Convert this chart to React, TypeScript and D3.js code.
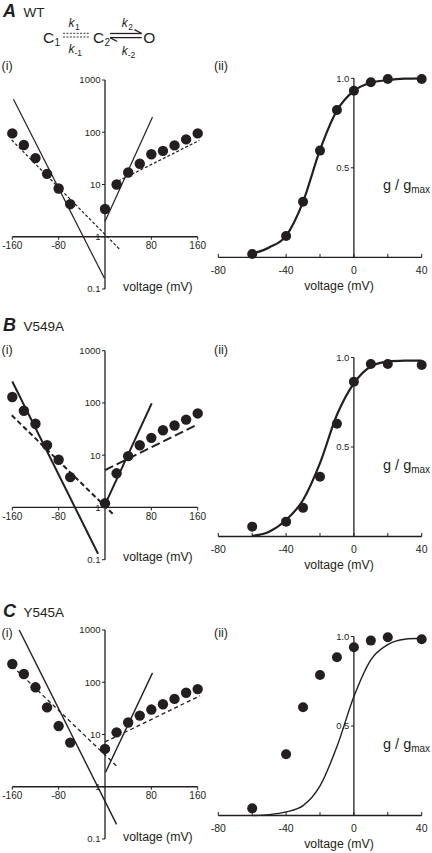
import React from 'react';
import * as d3 from 'd3';

// ---------- (i) rate constants vs voltage (log axis) ----------
const ivVoltages = [-160, -140, -120, -100, -80, -60, 0, 20, 40, 60, 80, 100, 120, 140, 160];
const wtRates = [95, 57, 32, 16, 8.4, 4.2, 3.4, 10, 17, 25, 38, 44, 56, 73, 95];
const v549aRates = [130, 71, 40, 15.6, 8.2, 3.8, 1.2, 4.5, 9.6, 15.5, 21.5, 30, 37, 48, 63];
const y545aRates = [224, 144, 80, 33, 14.5, 7, 5.3, 11, 17, 23, 30, 38, 48, 63, 74];

// fitted lines: [voltage, rate] end points
const wtSolidLeft = [[-158, 427], [-1, 0.16]];
const wtSolidRight = [[0, 1.95], [82, 195]];
const wtDashLeft = [[-161, 71], [25, 0.58]];
const wtDashRight = [[15, 10.5], [163, 70]];

const v549aSolidLeft = [[-160, 257], [-12, 0.13]];
const v549aSolidRight = [[-1, 1.07], [80.6, 98]];
const v549aDashLeft = [[-161, 58], [17, 0.69]];
const v549aDashRight = [[0, 5.2], [160, 39]];

const y545aSolidLeft = [[-148, 1000], [20, 0.19]];
const y545aSolidRight = [[1, 1.9], [82, 151]];
const y545aDashLeft = [[-160, 204], [20, 2.5]];
const y545aDashRight = [[0, 7.2], [164, 55]];

const ivXTicks = [-160, -80, 80, 160];
const ivYTicks = [1000, 100, 10, 1, 0.1];

// ---------- (ii) g / gmax vs voltage ----------
const gvVoltages = [-60, -40, -30, -20, -10, 0, 10, 20, 40];
const wtG = [0.018, 0.119, 0.31, 0.596, 0.823, 0.93, 0.978, 0.996, 0.996];
const v549aG = [0.055, 0.083, 0.16, 0.334, 0.63, 0.865, 0.964, 0.964, 0.958];
const y545aG = [0.04, 0.342, 0.605, 0.785, 0.884, 0.94, 0.977, 0.996, 0.985];

const fitVoltages = [-60, -50, -40, -30, -20, -10, 0, 10, 20, 30, 40];
const wtFit = [0.02, 0.055, 0.12, 0.31, 0.6, 0.82, 0.93, 0.975, 0.99, 0.998, 1.0];
const v549aFit = [0.003, 0.027, 0.092, 0.204, 0.41, 0.68, 0.856, 0.95, 0.977, 0.982, 0.983];
const y545aFit = [0, 0.005, 0.02, 0.055, 0.165, 0.385, 0.665, 0.87, 0.955, 0.985, 0.99];

const gvXTicks = [-80, -60, -40, -20, 0, 20, 40];
const gvXLabels = [-80, -40, 0, 40];
const gvYTicks = [1.0, 0.5];

const FONT = "'Liberation Sans', Arial, Helvetica, sans-serif";
const INK = '#231f20';

const ivX = d3.scaleLinear().domain([-160, 160]).range([12.3, 197.7]);
const gvX = d3.scaleLinear().domain([-80, 40]).range([218.3, 421.7]);

type LineStyle = { w: number; dash?: string };

const panels = [
  {
    letter: 'A', name: 'WT', headerY: 17, subY: 70, ivTop: 80, gvBase: 257.3,
    rates: wtRates, fits: [wtSolidLeft, wtSolidRight, wtDashLeft, wtDashRight],
    styles: [{ w: 1.2 }, { w: 1.2 }, { w: 1.2, dash: '3,2' }, { w: 1.2, dash: '3,2' }] as LineStyle[],
    g: wtG, gFit: wtFit, fitW: 2.2,
  },
  {
    letter: 'B', name: 'V549A', headerY: 331, subY: 354, ivTop: 350.7, gvBase: 536.5,
    rates: v549aRates, fits: [v549aSolidLeft, v549aSolidRight, v549aDashLeft, v549aDashRight],
    styles: [{ w: 2 }, { w: 2 }, { w: 2, dash: '5,3' }, { w: 2, dash: '9,4' }] as LineStyle[],
    g: v549aG, gFit: v549aFit, fitW: 2.2,
  },
  {
    letter: 'C', name: 'Y545A', headerY: 617, subY: 636.5, ivTop: 630, gvBase: 815.5,
    rates: y545aRates, fits: [y545aSolidLeft, y545aSolidRight, y545aDashLeft, y545aDashRight],
    styles: [{ w: 1.4 }, { w: 1.4 }, { w: 1.3, dash: '4,3' }, { w: 1.3, dash: '4,3' }] as LineStyle[],
    g: y545aG, gFit: y545aFit, fitW: 1.4,
  },
];

function fmtTick(v: number) {
  return v < 0 ? '-' + Math.abs(v) : String(v);
}

function Panel({ p }: { p: (typeof panels)[number] }) {
  const ivY = d3.scaleLog().domain([0.1, 1000]).range([p.ivTop + 209, p.ivTop]);
  const gvY = d3.scaleLinear().domain([0, 1]).range([p.gvBase, p.gvBase - 179]);
  const axisY = ivY(1);
  const x0 = ivX(0);
  const gx0 = gvX(0);
  const line = d3.line<number[]>().x((d) => ivX(d[0])).y((d) => ivY(d[1]));
  const fitPts = fitVoltages.map((v, i) => [v, p.gFit[i]] as [number, number]);
  const curve = d3
    .line<[number, number]>()
    .x((d) => gvX(d[0]))
    .y((d) => gvY(d[1]))
    .curve(d3.curveMonotoneX);

  return (
    <g>
      {/* header */}
      <text x={3} y={p.headerY} fontSize={18} fontWeight="bold" fontStyle="italic" fill={INK}>
        {p.letter}
      </text>
      <text x={23.5} y={p.headerY - 0.5} fontSize={13.5} fill={INK}>
        {p.name}
      </text>
      <text x={1.5} y={p.subY} fontSize={12.5} fill={INK}>(i)</text>
      <text x={214} y={p.subY} fontSize={12.5} fill={INK}>(ii)</text>

      {/* ---------- (i) ---------- */}
      <line x1={ivX(-160)} x2={ivX(160)} y1={axisY} y2={axisY} stroke={INK} strokeWidth={1.3} />
      {ivXTicks.map((t) => (
        <g key={'xt' + t}>
          <line x1={ivX(t)} x2={ivX(t)} y1={axisY} y2={axisY + 3} stroke={INK} strokeWidth={1} />
          <text x={ivX(t)} y={axisY + 12.5} fontSize={10} textAnchor="middle" fill={INK}>
            {fmtTick(t)}
          </text>
        </g>
      ))}
      <line x1={x0} x2={x0} y1={ivY(1000)} y2={ivY(0.1)} stroke={INK} strokeWidth={1.3} />
      {ivYTicks.map((t) => (
        <g key={'yt' + t}>
          <line x1={x0 - 3} x2={x0} y1={ivY(t)} y2={ivY(t)} stroke={INK} strokeWidth={1} />
          <text x={x0 - 4.5} y={ivY(t)} dy="0.35em" fontSize={9.5} textAnchor="end" fill={INK}>
            {String(t)}
          </text>
        </g>
      ))}
      <text x={123} y={ivY(0.1) + 1.5} fontSize={12.3} fill={INK}>voltage (mV)</text>

      {p.fits.map((f, i) => (
        <path
          key={'fit' + i}
          d={line(f) || ''}
          fill="none"
          stroke={INK}
          strokeWidth={p.styles[i].w}
          strokeDasharray={p.styles[i].dash}
        />
      ))}
      {ivVoltages.map((v, i) => (
        <circle key={'iv' + i} cx={ivX(v)} cy={ivY(p.rates[i])} r={5.2} fill={INK} />
      ))}

      {/* ---------- (ii) ---------- */}
      <line x1={gvX(-80)} x2={gvX(40)} y1={p.gvBase} y2={p.gvBase} stroke={INK} strokeWidth={1.3} />
      {gvXTicks.map((t) => (
        <line key={'gt' + t} x1={gvX(t)} x2={gvX(t)} y1={p.gvBase} y2={p.gvBase - 3.5} stroke={INK} strokeWidth={1} />
      ))}
      {gvXLabels.map((t) => (
        <text key={'gl' + t} x={gvX(t)} y={p.gvBase + 16.7} fontSize={10.5} textAnchor="middle" fill={INK}>
          {fmtTick(t)}
        </text>
      ))}
      <line x1={gx0} x2={gx0} y1={gvY(1)} y2={p.gvBase} stroke={INK} strokeWidth={1.3} />
      {gvYTicks.map((t) => (
        <g key={'gy' + t}>
          <line x1={gx0 - 3} x2={gx0} y1={gvY(t)} y2={gvY(t)} stroke={INK} strokeWidth={1} />
          <text x={gx0 - 4.5} y={gvY(t)} dy="0.35em" fontSize={9.5} textAnchor="end" fill={INK}>
            {t.toFixed(1)}
          </text>
        </g>
      ))}
      <text x={339} y={p.gvBase + 32.7} fontSize={12.3} textAnchor="middle" fill={INK}>voltage (mV)</text>
      <text x={383} y={gvY(0.5) + 22.5} fontSize={14.5} fill={INK}>
        g / g
        <tspan fontSize={10} dy={3}>max</tspan>
      </text>

      <path d={curve(fitPts) || ''} fill="none" stroke={INK} strokeWidth={p.fitW} />
      {gvVoltages.map((v, i) => (
        <circle key={'gv' + i} cx={gvX(v)} cy={gvY(p.g[i])} r={5} fill={INK} />
      ))}
    </g>
  );
}

function Scheme() {
  const sw = 1.3;
  return (
    <g fill={INK}>
      <text x={43} y={43.3} fontSize={15.5}>C</text>
      <text x={54.5} y={46} fontSize={10}>1</text>
      <line x1={63} x2={90} y1={33.3} y2={33.3} stroke={INK} strokeWidth={0.9} strokeDasharray="2,1.4" />
      <line x1={63} x2={90} y1={37} y2={37} stroke={INK} strokeWidth={0.9} strokeDasharray="2,1.4" />
      <text x={68.5} y={26.7} fontSize={12} fontStyle="italic">k</text>
      <text x={75} y={29.5} fontSize={8.5}>1</text>
      <text x={68.5} y={53} fontSize={12} fontStyle="italic">k</text>
      <text x={74.5} y={56} fontSize={8.5}>-1</text>

      <text x={93} y={43.3} fontSize={15.5}>C</text>
      <text x={104.5} y={46} fontSize={10}>2</text>

      <line x1={110} x2={141.7} y1={33.5} y2={33.5} stroke={INK} strokeWidth={sw} />
      <line x1={141.7} x2={134.5} y1={33.5} y2={29.6} stroke={INK} strokeWidth={sw} />
      <line x1={110} x2={141.7} y1={37.6} y2={37.6} stroke={INK} strokeWidth={sw} />
      <line x1={110} x2={117.2} y1={37.6} y2={41.5} stroke={INK} strokeWidth={sw} />
      <text x={121.7} y={26.7} fontSize={12} fontStyle="italic">k</text>
      <text x={128.2} y={29.5} fontSize={8.5}>2</text>
      <text x={121.7} y={54.5} fontSize={12} fontStyle="italic">k</text>
      <text x={127.7} y={57.5} fontSize={8.5}>-2</text>

      <text x={143.3} y={43.3} fontSize={15.5}>O</text>
    </g>
  );
}

export default function App() {
  return (
    <svg
      width={432}
      height={853}
      viewBox="0 0 432 853"
      style={{ position: 'absolute', left: 0, top: 0, background: '#fff' }}
      fontFamily={FONT}
    >
      <rect width={432} height={853} fill="#fff" />
      <Scheme />
      {panels.map((p) => (
        <Panel key={p.letter} p={p} />
      ))}
    </svg>
  );
}
